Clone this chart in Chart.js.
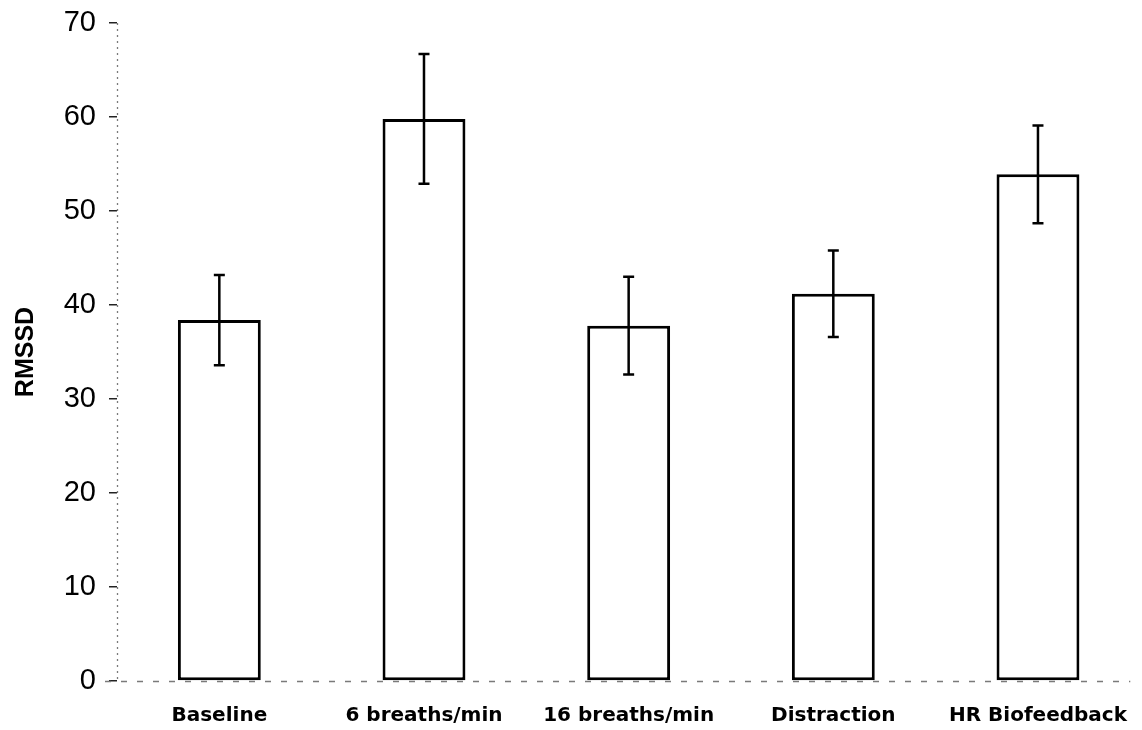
<!DOCTYPE html>
<html>
<head>
<meta charset="utf-8">
<script src="https://cdn.jsdelivr.net/npm/chart.js@4.4.1/dist/chart.umd.min.js"></script>
<style>
  html, body { margin: 0; padding: 0; background: #fff; }
  #wrap { width: 1142px; height: 730px; position: relative; }
</style>
</head>
<body>
<div id="wrap"><canvas id="c"></canvas></div>
<script>
// Conditions and mean RMSSD with standard error
const categories = ['Baseline', '6 breaths/min', '16 breaths/min', 'Distraction', 'HR Biofeedback'];
const rmssd = [38.4, 59.8, 37.8, 41.2, 53.9];
const rmssdError = [4.8, 6.9, 5.2, 4.6, 5.2];
const yTicks = [0, 10, 20, 30, 40, 50, 60, 70];

// Light dashed axis lines along the left and bottom of the plot area
const dashedAxes = {
  id: 'dashedAxes',
  beforeDatasetsDraw(chart) {
    const { ctx, chartArea: a } = chart;
    ctx.save();
    ctx.strokeStyle = '#7a7a7a';
    ctx.lineWidth = 1.3;
    ctx.setLineDash([2, 4]);
    ctx.beginPath();
    ctx.moveTo(a.left + 0.5, a.top);
    ctx.lineTo(a.left + 0.5, a.bottom);
    ctx.stroke();
    ctx.setLineDash([6, 10]);
    ctx.beginPath();
    ctx.moveTo(a.left - 12, a.bottom + 0.5);
    ctx.lineTo(a.right - 10, a.bottom + 0.5);
    ctx.stroke();
    ctx.restore();
  }
};

// Draws the vertical error bars with end caps on top of each bar
const errorBars = {
  id: 'errorBars',
  afterDatasetsDraw(chart) {
    const ctx = chart.ctx;
    const x = chart.scales.x;
    const y = chart.scales.y;
    ctx.save();
    ctx.strokeStyle = '#000';
    ctx.lineWidth = 2.5;
    categories.forEach((c, i) => {
      const cx = x.getPixelForValue(i);
      const top = y.getPixelForValue(rmssd[i] + rmssdError[i]);
      const bot = y.getPixelForValue(rmssd[i] - rmssdError[i]);
      ctx.beginPath();
      ctx.moveTo(cx, top); ctx.lineTo(cx, bot);
      ctx.moveTo(cx - 5.5, top); ctx.lineTo(cx + 5.5, top);
      ctx.moveTo(cx - 5.5, bot); ctx.lineTo(cx + 5.5, bot);
      ctx.stroke();
    });
    ctx.restore();
  }
};

new Chart(document.getElementById('c'), {
  type: 'bar',
  data: {
    labels: categories,
    datasets: [{
      data: rmssd,
      backgroundColor: '#ffffff',
      borderColor: '#000000',
      borderWidth: 3,
      borderSkipped: false,
      categoryPercentage: 1.0,
      barPercentage: 0.405
    }]
  },
  options: {
    responsive: true,
    maintainAspectRatio: false,
    animation: false,
    layout: { padding: { top: 23, right: 0, bottom: 0, left: 0 } },
    plugins: { legend: { display: false }, tooltip: { enabled: false } },
    scales: {
      x: {
        grid: { display: false },
        border: { display: false },
        ticks: {
          color: '#000',
          padding: 15,
          maxRotation: 0,
          autoSkip: false,
          font: { family: 'DejaVu Sans', weight: 'bold', size: 20 }
        },
        afterFit(scale) { scale.height = 49; }
      },
      y: {
        min: 0,
        max: 70,
        afterBuildTicks(scale) { scale.ticks = yTicks.map(v => ({ value: v })); },
        grid: { display: true, drawOnChartArea: false, drawTicks: true, tickLength: 8, tickColor: '#222', lineWidth: 1.5 },
        border: { display: false },
        ticks: {
          color: '#000',
          padding: 13,
          font: { family: 'Liberation Sans', size: 29 }
        },
        title: {
          display: true,
          text: 'RMSSD',
          color: '#000',
          padding: { top: 11, bottom: 0 },
          font: { family: 'Liberation Sans', weight: 'bold', size: 25 }
        },
        afterFit(scale) {
          scale.width = 117;
          scale.paddingTop = 0;
          scale.paddingBottom = 0;
        }
      }
    }
  },
  plugins: [dashedAxes, errorBars]
});
</script>
</body>
</html>
